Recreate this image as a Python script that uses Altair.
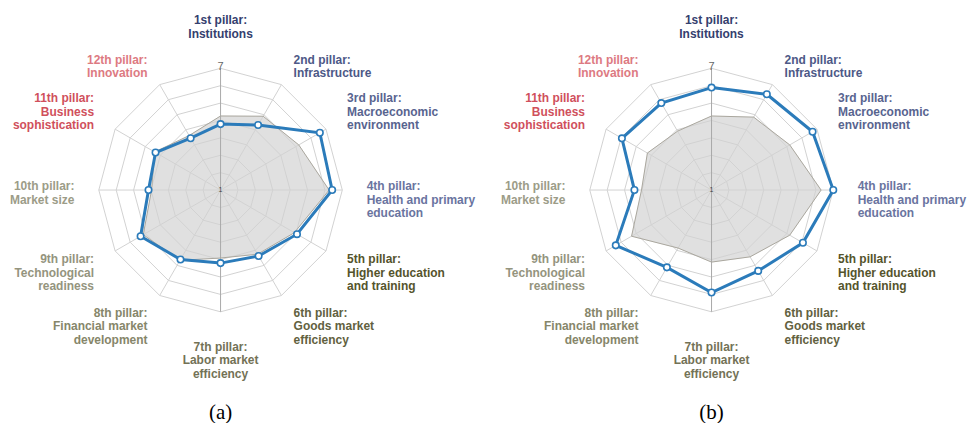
import altair as alt
import pandas as pd

# ---------------- data ----------------
pillars = [
    "1st pillar:\nInstitutions",
    "2nd pillar:\nInfrastructure",
    "3rd pillar:\nMacroeconomic\nenvironment",
    "4th pillar:\nHealth and primary\neducation",
    "5th pillar:\nHigher education\nand training",
    "6th pillar:\nGoods market\nefficiency",
    "7th pillar:\nLabor market\nefficiency",
    "8th pillar:\nFinancial market\ndevelopment",
    "9th pillar:\nTechnological\nreadiness",
    "10th pillar:\nMarket size",
    "11th pillar:\nBusiness\nsophistication",
    "12th pillar:\nInnovation",
]
blue_a = [4.25, 4.70, 6.65, 6.50, 5.35, 4.75, 4.60, 4.95, 5.55, 4.55, 4.70, 3.95]
gray_a = [4.65, 5.20, 5.45, 6.35, 5.20, 4.65, 4.35, 5.00, 5.40, 4.40, 4.75, 4.10]
blue_b = [6.05, 6.45, 6.75, 7.00, 6.20, 5.60, 6.05, 5.40, 6.45, 4.80, 6.10, 5.95]
gray_b = [4.65, 5.15, 5.45, 6.40, 5.45, 4.80, 4.55, 4.30, 5.55, 4.45, 4.65, 4.35]
panel_tags = ["(a)", "(b)"]
tick_labels = ["1", "7"]
scale_min, scale_max = 1, 7
ring_count = 7

# ---------------- style ----------------
label_colors = ["#34406e", "#4d5987", "#58648f", "#6a74a0", "#55542c", "#626140",
                "#737256", "#86866a", "#94947e", "#9c9c88", "#d0505c", "#dd7a82"]
BLUE = "#2b7bba"
R_PX = 122
W, H = 426, 388
CY_TOP = 182

xd = W / 2 / R_PX
yd_top = CY_TOP / R_PX
yd_bot = (H - CY_TOP) / R_PX
XS = alt.Scale(domain=[-xd, xd], nice=False, zero=False)
YS = alt.Scale(domain=[-yd_bot, yd_top], nice=False, zero=False)

n = len(pillars)
TH = f"datum.i * 2 * PI / {n}"
RV = f"(datum.v - {scale_min}) / {scale_max - scale_min}"


def X(f):
    return alt.X(f"{f}:Q", scale=XS, axis=None)


def Y(f):
    return alt.Y(f"{f}:Q", scale=YS, axis=None)


def panel(blue, gray, tag):
    grid_df = pd.DataFrame([{"k": k, "i": i} for k in range(1, ring_count + 1) for i in range(n + 1)])
    spoke_df = pd.DataFrame({"i": list(range(n))})
    gray_df = pd.DataFrame({"i": list(range(n + 1)), "v": [gray[i % n] for i in range(n + 1)]})
    blue_df = pd.DataFrame({"i": list(range(n + 1)), "v": [blue[i % n] for i in range(n + 1)]})
    lab_df = pd.DataFrame({"i": list(range(n)), "t": pillars, "c": label_colors})
    tick_df = pd.DataFrame({"t": tick_labels, "v": [float(t) for t in tick_labels], "i": [0, 0]})

    def polar(ch, rexpr):
        return ch.transform_calculate(th=TH).transform_calculate(
            r=rexpr).transform_calculate(x="datum.r * sin(datum.th)", y="datum.r * cos(datum.th)")

    gray_fill = polar(alt.Chart(gray_df), RV).mark_line(
        fill="#e0e0e0", stroke="#e0e0e0", strokeWidth=0.5
    ).encode(x=X("x"), y=Y("y"), order="i:Q")

    grid = polar(alt.Chart(grid_df), f"datum.k / {ring_count}").mark_line(
        stroke="#d2d2d2", strokeWidth=1
    ).encode(x=X("x"), y=Y("y"), order="i:Q", detail="k:N")

    spokes = polar(alt.Chart(spoke_df), "1").transform_calculate(x0="0", y0="0").mark_rule(
        strokeWidth=1
    ).encode(
        x=X("x0"), y=Y("y0"), x2="x:Q", y2="y:Q",
        stroke=alt.condition("datum.i % 6 == 0", alt.value("#a9a9a9"), alt.value("#d2d2d2")),
    )

    gray_line = polar(alt.Chart(gray_df), RV).mark_line(
        stroke="#aaa79e", strokeWidth=1
    ).encode(x=X("x"), y=Y("y"), order="i:Q")

    blue_line = polar(alt.Chart(blue_df), RV).mark_line(
        stroke=BLUE, strokeWidth=3
    ).encode(x=X("x"), y=Y("y"), order="i:Q")

    blue_pts = polar(alt.Chart(blue_df).transform_filter(f"datum.i < {n}"), RV).mark_point(
        shape="circle", filled=True, fill="white", stroke=BLUE, strokeWidth=1.6, size=42, opacity=1
    ).encode(x=X("x"), y=Y("y"))

    ticks7 = polar(alt.Chart(tick_df).transform_filter(f"datum.v == {scale_max}"), RV).mark_text(
        font="Liberation Sans", fontSize=11, color="#666666", baseline="middle", dy=-1
    ).encode(x=X("x"), y=Y("y"), text="t:N")
    ticks1 = polar(alt.Chart(tick_df).transform_filter(f"datum.v == {scale_min}"), RV).mark_text(
        font="Liberation Sans", fontSize=7, color="#444444", baseline="middle"
    ).encode(x=X("x"), y=Y("y"), text="t:N")

    lab_base = alt.Chart(lab_df).transform_calculate(th=TH).transform_calculate(
        lx="1.2 * sin(datum.th)",
        ly="1.2 * cos(datum.th) + (cos(datum.th) > 0.99 ? 0.16 : 0)"
           " + (cos(datum.th) < -0.99 ? -0.12 : 0)"
           " + (abs(cos(datum.th) - 0.5) < 0.01 ? 0.12 : 0)",
        side="sin(datum.th) > 0.01 ? 'left' : (sin(datum.th) < -0.01 ? 'right' : 'center')",
    )
    labels = []
    for side in ["left", "center", "right"]:
        labels.append(
            lab_base.transform_filter(f"datum.side == '{side}'").mark_text(
                align=side, baseline="middle", lineBreak="\n", font="Liberation Sans",
                fontSize=12, fontWeight="bold", lineHeight=13.5, dy=-4
            ).encode(x=X("lx"), y=Y("ly"), text="t:N", color=alt.Color("c:N", scale=None))
        )

    return alt.layer(gray_fill, grid, spokes, gray_line, blue_line, blue_pts,
                     ticks7, ticks1, *labels).properties(
        width=W, height=H,
        title=alt.TitleParams(tag, orient="bottom", font="Liberation Serif", fontSize=21,
                              fontWeight="normal", color="#000000", offset=6, anchor="middle"),
    )


pa = panel(blue_a, gray_a, panel_tags[0])
pb = panel(blue_b, gray_b, panel_tags[1])

chart = alt.hconcat(pa, pb, spacing=66, bounds="flush", padding=0).configure_view(stroke=None)

chart.save("out.html", embed_options={"renderer": "svg", "actions": False})
